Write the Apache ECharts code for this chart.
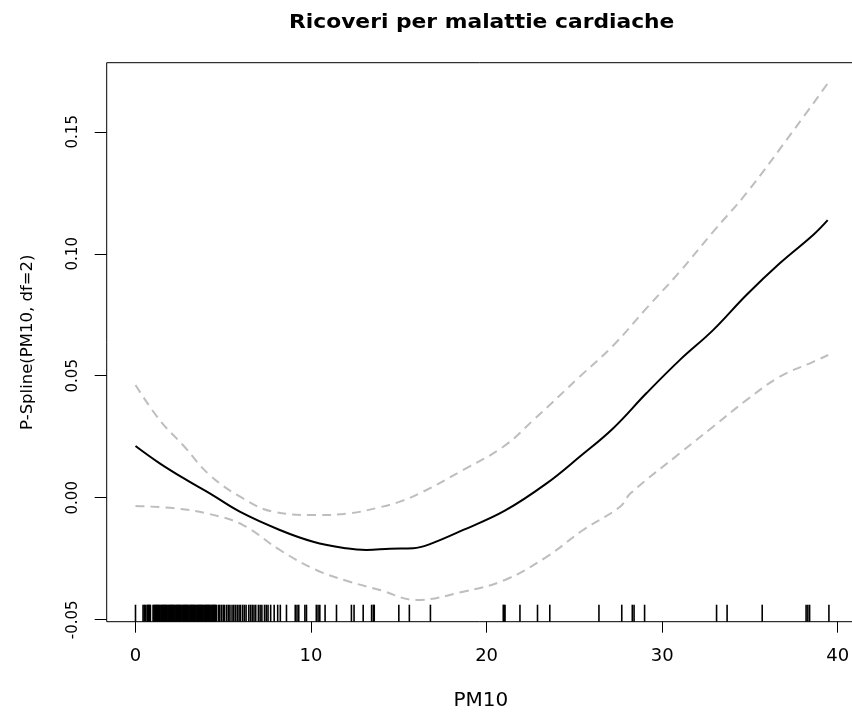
<!DOCTYPE html>
<html>
<head>
<meta charset="utf-8">
<script src="https://cdn.jsdelivr.net/npm/echarts@6/dist/echarts.min.js"></script>
<style>
  html, body { margin: 0; padding: 0; background: #fff; }
  #chart { width: 852px; height: 713px; }
</style>
</head>
<body>
<div id="chart"></div>
<script>
// fitted spline (solid black)
const fitX = [0, 1.38, 2.9, 4.23, 5.94, 8.22, 10.12, 12.0, 13.16, 14.5, 15.82, 16.77, 18.67, 21.04, 23.42, 25.3, 27.2, 29.1, 31.0, 32.9, 34.8, 36.7, 38.6, 39.43]
const fitY = [0.0212, 0.0141, 0.0073, 0.0018, -0.0057, -0.0132, -0.018, -0.0207, -0.0214, -0.0209, -0.0207, -0.019, -0.0132, -0.0053, 0.0059, 0.0168, 0.0284, 0.0428, 0.0564, 0.0687, 0.0831, 0.0961, 0.1077, 0.1138]

// upper band (grey dashed)
const upX = [0, 1.38, 2.7, 4.23, 6.13, 7.84, 10.3, 12.2, 13.92, 15.06, 16.39, 18.67, 20.95, 22.66, 25.3, 27.2, 29.1, 31.0, 32.9, 34.8, 37.5, 39.43]
const upY = [0.0462, 0.0318, 0.0216, 0.0093, -0.0003, -0.0057, -0.0071, -0.0064, -0.0039, -0.0016, 0.0025, 0.0114, 0.0209, 0.0318, 0.0496, 0.0623, 0.0776, 0.0926, 0.109, 0.1248, 0.1507, 0.1698]

// lower band (grey dashed)
const loX = [0, 2.34, 4.23, 6.13, 8.22, 10.3, 12.2, 13.92, 16.0, 18.67, 21.04, 23.42, 25.5, 27.6, 28.2, 31.0, 32.9, 34.8, 36.7, 38.6, 39.46]
const loY = [-0.0034, -0.0044, -0.0067, -0.0112, -0.0214, -0.0296, -0.0344, -0.0378, -0.0419, -0.0385, -0.0337, -0.0242, -0.0132, -0.0037, 0.0018, 0.0182, 0.0291, 0.04, 0.0496, 0.0557, 0.0585]

// rug of observed PM10 values
const rugX = [
  0.0, 0.43, 0.5, 0.57, 0.66, 0.7, 0.75, 0.8, 0.85,
  1.0, 1.05, 1.1, 1.15, 1.2, 1.25, 1.3, 1.35, 1.4, 1.45, 1.5, 1.55, 1.6, 1.65, 1.7, 1.75, 1.8, 1.85, 1.9, 1.95,
  2.0, 2.05, 2.1, 2.15, 2.2, 2.25, 2.3, 2.35, 2.4, 2.45, 2.5, 2.55, 2.6, 2.65, 2.7, 2.75, 2.8, 2.85, 2.9, 2.95,
  3.0, 3.05, 3.1, 3.15, 3.2, 3.25, 3.3, 3.35, 3.4, 3.45, 3.5, 3.55, 3.6, 3.65, 3.7, 3.75, 3.8, 3.85, 3.9, 3.95,
  4.0, 4.05, 4.1, 4.15, 4.2, 4.25, 4.3, 4.35, 4.4, 4.45, 4.5, 4.55, 4.6,
  4.72, 4.8, 4.9, 5.0, 5.08, 5.2, 5.3, 5.38, 5.5, 5.6, 5.7, 5.8, 5.9, 5.98, 6.1, 6.2, 6.3, 6.45, 6.55, 6.65, 6.75, 6.85,
  7.0, 7.1, 7.2, 7.35, 7.45, 7.55, 7.7, 7.9, 8.1, 8.25,
  8.6, 9.1, 9.2, 9.3, 9.65, 9.74, 10.3, 10.4, 10.5, 10.8, 11.45, 12.3, 12.45, 12.97, 13.45, 13.55, 13.6,
  15.0, 15.6, 16.8, 20.95, 21.0, 21.05, 21.9, 22.9, 23.6, 26.4, 27.7, 28.3, 28.4, 29.0,
  33.1, 33.7, 35.7, 38.2, 38.3, 38.4, 39.5
]

const xTicks = [0, 10, 20, 30, 40]
const yTicks = [-0.05, 0, 0.05, 0.1, 0.15]

const xMin = -1.64, xMax = 40.98
const yMin = -0.0508, yMax = 0.1783

const font = 'DejaVu Sans, sans-serif'
const pairs = (xs, ys) => xs.map((x, i) => [x, ys[i]])

const chart = echarts.init(document.getElementById('chart'))
chart.setOption({
  animation: false,
  backgroundColor: '#fff',
  grid: {
    left: 106.7, top: 62.7, bottom: 91.3, right: -2.9,
    outerBoundsMode: 'none', containLabel: false,
    show: true, borderColor: '#000', borderWidth: 1, backgroundColor: 'transparent'
  },
  graphic: [{
    type: 'text',
    x: 481.7, y: 22.3, scaleX: 1.09,
    style: {
      text: 'Ricoveri per malattie cardiache',
      font: 'bold 20px ' + font,
      fill: '#000', align: 'center', verticalAlign: 'middle'
    }
  }],
  xAxis: {
    type: 'value', min: xMin, max: xMax,
    name: 'PM10', nameLocation: 'middle', nameGap: 69,
    nameTextStyle: { fontFamily: font, fontSize: 20, color: '#000' },
    axisLine: { show: false, onZero: false },
    axisTick: { show: true, length: 11, customValues: xTicks, lineStyle: { color: '#000' } },
    axisLabel: { customValues: xTicks, margin: 26, fontFamily: font, fontSize: 18, color: '#000' },
    splitLine: { show: false }
  },
  yAxis: {
    type: 'value', min: yMin, max: yMax,
    name: 'P-Spline(PM10, df=2)', nameLocation: 'middle', nameGap: 70, nameRotate: 90,
    nameTextStyle: { fontFamily: font, fontSize: 16.5, color: '#000' },
    axisLine: { show: false, onZero: false },
    axisTick: { show: true, length: 12, customValues: yTicks, lineStyle: { color: '#000' } },
    axisLabel: {
      customValues: yTicks, rotate: 90, margin: 26,
      fontFamily: font, fontSize: 15, color: '#000',
      formatter: v => v.toFixed(2)
    },
    splitLine: { show: false }
  },
  series: [
    {
      type: 'line', data: pairs(upX, upY), showSymbol: false, smooth: 0.4,
      lineStyle: { color: '#bebebe', width: 2, type: [9, 6] }
    },
    {
      type: 'line', data: pairs(loX, loY), showSymbol: false, smooth: 0.4,
      lineStyle: { color: '#bebebe', width: 2, type: [9, 6] }
    },
    {
      type: 'line', data: pairs(fitX, fitY), showSymbol: false, smooth: 0.4,
      lineStyle: { color: '#000', width: 2 }
    },
    {
      type: 'custom',
      data: rugX.map(x => [x, yMin]),
      encode: { x: 0, y: 1 },
      renderItem: (params, api) => {
        const p = api.coord([api.value(0), yMin])
        return {
          type: 'line',
          shape: { x1: p[0], y1: p[1], x2: p[0], y2: p[1] - 17 },
          style: { stroke: '#000', lineWidth: 1.6 }
        }
      }
    }
  ]
})
</script>
</body>
</html>
